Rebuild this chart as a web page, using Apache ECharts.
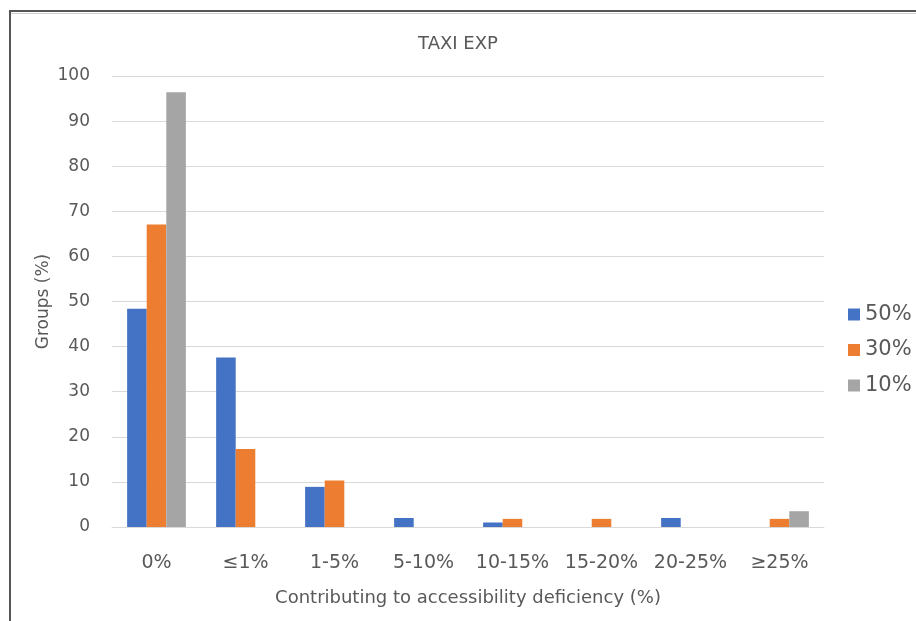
<!DOCTYPE html>
<html>
<head>
<meta charset="utf-8">
<script src="https://cdn.jsdelivr.net/npm/echarts@6/dist/echarts.min.js"></script>
<style>
  html, body { margin: 0; padding: 0; background: #ffffff; }
  #chart { width: 916px; height: 621px; }
</style>
</head>
<body>
<div id="chart"></div>
<script>
// Share of groups by contribution to accessibility deficiency
const categories = ['0%', '≤1%', '1-5%', '5-10%', '10-15%', '15-20%', '20-25%', '≥25%'];
const seriesNames = ['50%', '30%', '10%'];
const values50 = [48.4, 37.6, 8.9, 2.0, 1.0, 0, 2.0, 0];
const values30 = [67.1, 17.3, 10.3, 0, 1.8, 1.8, 0, 1.8];
const values10 = [96.4, 0, 0, 0, 0, 0, 0, 3.5];
const yTicks = { min: 0, max: 100, interval: 10 };
const colors = ['#4472C4', '#ED7D31', '#A5A5A5'];

const FONT = '"DejaVu Sans", "Liberation Sans", sans-serif';
const TEXT = '#595959';

const chart = echarts.init(document.getElementById('chart'), null, { renderer: 'canvas' });

const seriesData = [values50, values30, values10];

chart.setOption({
  backgroundColor: '#ffffff',
  animation: false,
  color: colors,
  title: {
    text: 'TAXI EXP',
    left: 'center',
    top: 35,
    padding: 0,
    textStyle: { fontFamily: FONT, fontSize: 18, fontWeight: 'normal', color: TEXT }
  },
  legend: {
    orient: 'vertical',
    left: 848,
    top: 304,
    padding: 0,
    itemWidth: 12,
    itemHeight: 12,
    itemGap: 14.5,
    icon: 'rect',
    textStyle: { fontFamily: FONT, fontSize: 21, color: TEXT, lineHeight: 21 },
    data: seriesNames
  },
  grid: { left: 112, right: 92, top: 76, bottom: 94, containLabel: false },
  xAxis: {
    type: 'category',
    data: categories,
    name: 'Contributing to accessibility deficiency (%)',
    nameLocation: 'middle',
    nameGap: 62,
    nameMoveOverlap: false,
    nameTextStyle: { fontFamily: FONT, fontSize: 18, color: TEXT },
    axisLine: { show: true, lineStyle: { color: '#D9D9D9', width: 1 } },
    axisTick: { show: false },
    axisLabel: { fontFamily: FONT, fontSize: 19, color: TEXT, margin: 27, interval: 0, hideOverlap: false }
  },
  yAxis: {
    type: 'value',
    min: yTicks.min,
    max: yTicks.max,
    interval: yTicks.interval,
    name: 'Groups (%)',
    nameLocation: 'middle',
    nameGap: 60,
    nameMoveOverlap: false,
    nameTextStyle: { fontFamily: FONT, fontSize: 17, color: TEXT },
    axisLine: { show: false },
    axisTick: { show: false },
    splitLine: { lineStyle: { color: '#D9D9D9', width: 1 } },
    axisLabel: { fontFamily: FONT, fontSize: 17, color: TEXT, margin: 22 }
  },
  graphic: [
    {
      type: 'rect',
      silent: true,
      z: 100,
      shape: { x: 10, y: 11, width: 940, height: 660 },
      style: { fill: 'none', stroke: '#555555', lineWidth: 2 }
    },
    {
      type: 'line',
      silent: true,
      z: 100,
      shape: { x1: 11, y1: 13.5, x2: 916, y2: 13.5 },
      style: { stroke: '#D0D0D0', lineWidth: 1 }
    }
  ],
  series: seriesNames.map((name, i) => ({
    name: name,
    type: 'bar',
    data: seriesData[i],
    barGap: '0%',
    barCategoryGap: '34%',
    itemStyle: { color: colors[i] }
  }))
});
</script>
</body>
</html>
